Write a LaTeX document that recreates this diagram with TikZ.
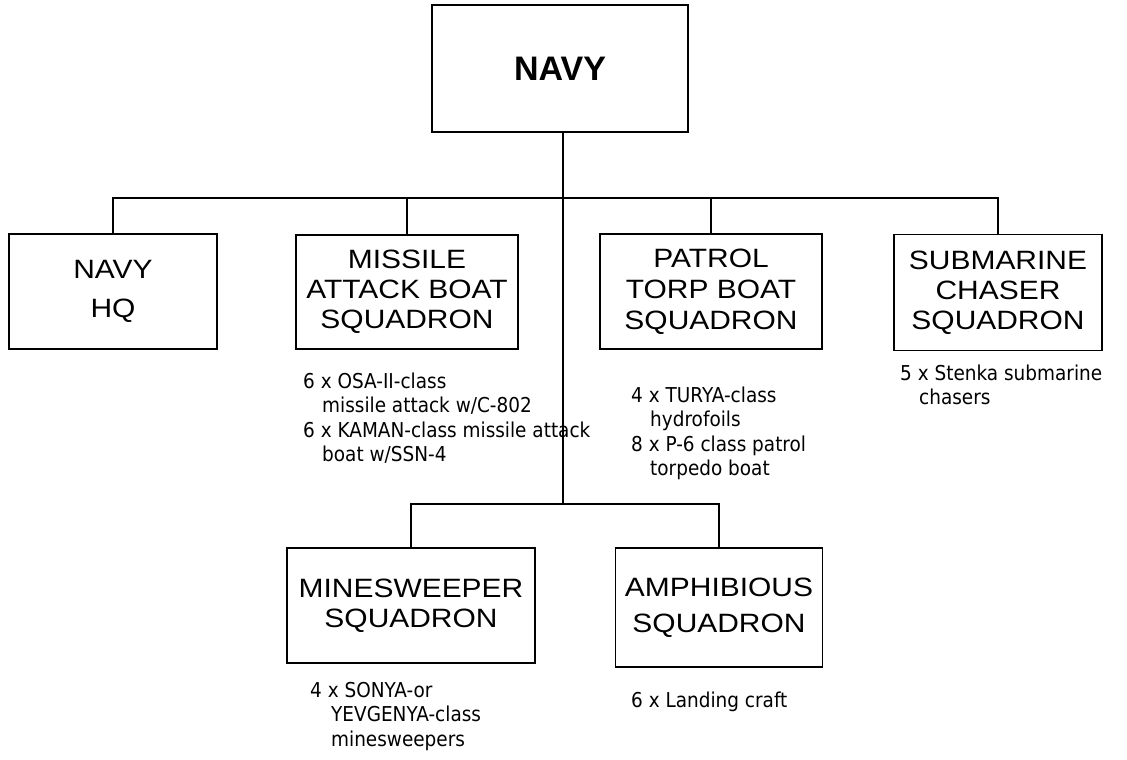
\documentclass[tikz,border=0pt]{standalone}
\usepackage{fontspec}
\setmainfont{Liberation Sans}
\newfontfamily\boxfont[FakeStretch=1.13]{Liberation Sans}
\newfontfamily\notefont[FakeStretch=0.9]{DejaVu Sans}
\tikzset{
  orgbox/.style={draw, line width=1.6pt, inner sep=0pt, align=center},
  boxtxt/.style={font=\boxfont\fontsize{26.5}{#1}\selectfont},
  note/.style={anchor=base west, inner sep=0pt, font=\notefont\fontsize{20.5}{24.5}\selectfont},
  conn/.style={line width=1.6pt}
}
\newcommand{\notelines}[1]{\parbox[t]{330pt}{\raggedright #1}}
\newcommand{\ind}{\hspace*{19pt}}
\begin{document}
\begin{tikzpicture}[x=1pt,y=-1pt]
\useasboundingbox (0,0) rectangle (1127,760);
% boxes
\node[orgbox, minimum width=256pt, minimum height=127pt, font=\bfseries\fontsize{34}{40}\selectfont] (navy) at (560,68.5) {NAVY};
\node[orgbox, boxtxt=39, minimum width=208pt, minimum height=115pt] (hq) at (113,291.5) {NAVY\\HQ};
\node[orgbox, boxtxt=30, minimum width=222pt, minimum height=114pt] (missile) at (407,292) {MISSILE\\ATTACK BOAT\\SQUADRON};
\node[orgbox, boxtxt=31, minimum width=222pt, minimum height=115pt] (patrol) at (711,291.5) {PATROL\\TORP BOAT\\SQUADRON};
\node[orgbox, boxtxt=30, minimum width=208pt, minimum height=116pt] (sub) at (998,292.5) {SUBMARINE\\CHASER\\SQUADRON};
\node[orgbox, boxtxt=30, minimum width=248pt, minimum height=115pt] (mine) at (411,605.5) {MINESWEEPER\\SQUADRON};
\node[orgbox, boxtxt=36, minimum width=207pt, minimum height=119pt] (amph) at (719,607.5) {AMPHIBIOUS\\SQUADRON};
% connectors
\coordinate (jt) at (563,198);
\coordinate (jb) at (563,504);
\draw[conn] (jt |- navy.south) -- (jb);
\draw[conn] (hq.north) -- (hq.north |- jt) -- (sub.north |- jt) -- (sub.north);
\draw[conn] (missile.north) -- (missile.north |- jt);
\draw[conn] (patrol.north) -- (patrol.north |- jt);
\draw[conn] (mine.north) -- (mine.north |- jb) -- (amph.north |- jb) -- (amph.north);
% notes
\node[note] (nmissile) at (303,388) {\notelines{6 x OSA-II-class\\\ind missile attack w/C-802\\6 x KAMAN-class missile attack\\\ind boat w/SSN-4}};
\node[note] (npatrol) at (631,402) {\notelines{4 x TURYA-class\\\ind hydrofoils\\8 x P-6 class patrol\\\ind torpedo boat}};
\node[note] (nsub) at (900,380) {\notelines{5 x Stenka submarine\\\ind chasers}};
\node[note] (nmine) at (310,697) {\notelines{4 x SONYA-or\\\hspace*{21pt}YEVGENYA-class\\\hspace*{21pt}minesweepers}};
\node[note] (namph) at (631,707) {\notelines{6 x Landing craft}};
\end{tikzpicture}
\end{document}
